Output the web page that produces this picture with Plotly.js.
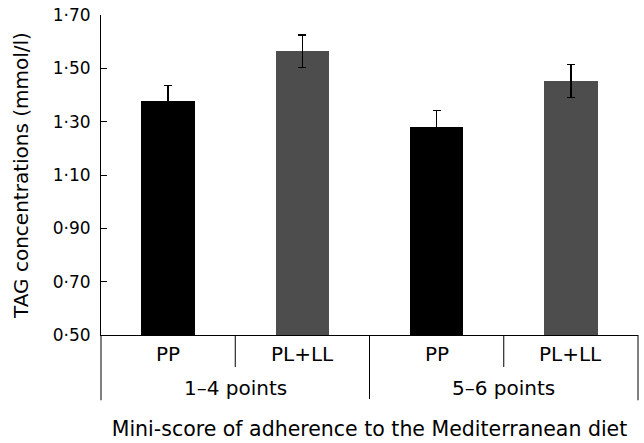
<!DOCTYPE html>
<html>
<head>
<meta charset="utf-8">
<script src="https://cdn.plot.ly/plotly-3.0.1.min.js"></script>
<style>html,body{margin:0;padding:0;background:#fff;}</style>
</head>
<body>
<div id="chart" style="width:644px;height:443px;"></div>
<script>
// Data
var groups = ["1–4 points", "1–4 points", "5–6 points", "5–6 points"];
var subgroups = ["PP", "PL+LL", "PP", "PL+LL"];
var tagValues = [1.378, 1.564, 1.281, 1.452];
var tagErrors = [0.058, 0.061, 0.061, 0.062];
var barColors = ["#000000", "#4d4d4d", "#000000", "#4d4d4d"];
var yTickVals = [0.50, 0.70, 0.90, 1.10, 1.30, 1.50, 1.70];
var yTickText = ["0·50", "0·70", "0·90", "1·10", "1·30", "1·50", "1·70"];
var groupNames = ["1–4 points", "5–6 points"];

var FONT = "DejaVu Sans, Arial, sans-serif";
var xIdx = subgroups.map(function (_, i) { return i; });
var yRange = [0.5, 1.7];

var trace = {
  type: "bar",
  x: xIdx,
  y: tagValues,
  base: 0,
  width: 0.40,
  marker: { color: barColors, line: { width: 0 } },
  error_y: { type: "data", array: tagErrors, visible: true, color: "#000000", thickness: 1.5, width: 4 },
  hoverinfo: "none"
};

var annotations = [];
subgroups.forEach(function (s, i) {
  annotations.push({ xref: "x", yref: "paper", x: i, y: -0.059, text: s, showarrow: false,
    xanchor: "center", yanchor: "middle", font: { family: FONT, size: 20, color: "#000" } });
});
groupNames.forEach(function (g) {
  var idx = [];
  groups.forEach(function (gg, i) { if (gg === g) idx.push(i); });
  var cx = (idx[0] + idx[idx.length - 1]) / 2;
  annotations.push({ xref: "x", yref: "paper", x: cx, y: -0.166, text: g, showarrow: false,
    xanchor: "center", yanchor: "middle", font: { family: FONT, size: 20, color: "#000" } });
});

var shapes = [];
var lineStyle = { color: "#000", width: 1 };
// outer verticals of category box
shapes.push({ type: "line", xref: "x domain", yref: "y domain", x0: 0, x1: 0, y0: 0, y1: -0.204, line: lineStyle });
shapes.push({ type: "line", xref: "x domain", yref: "y domain", x0: 1, x1: 1, y0: 0, y1: -0.204, line: lineStyle });
// dividers
for (var i = 0; i < subgroups.length - 1; i++) {
  var between = groups[i] !== groups[i + 1];
  shapes.push({ type: "line", xref: "x", yref: "y domain", x0: i + 0.5, x1: i + 0.5, y0: 0,
    y1: between ? -0.200 : -0.100, line: lineStyle });
}

var layout = {
  width: 644, height: 443,
  margin: { l: 101, r: 6, t: 15, b: 108, pad: 0 },
  paper_bgcolor: "#fff", plot_bgcolor: "#fff",
  showlegend: false,
  bargap: 0,
  xaxis: {
    range: [-0.5, subgroups.length - 0.5],
    showticklabels: false, ticks: "", showgrid: false, zeroline: false,
    showline: true, linecolor: "#000", linewidth: 1, fixedrange: true,
    title: { text: "Mini-score of adherence to the Mediterranean diet", font: { family: FONT, size: 20.5, color: "#000" }, standoff: 86 }
  },
  yaxis: {
    range: yRange,
    tickvals: yTickVals, ticktext: yTickText,
    ticks: "outside", ticklen: 6, tickwidth: 1, tickcolor: "rgba(0,0,0,0)",
    showline: true, linecolor: "#000", linewidth: 1,
    showgrid: false, zeroline: false, fixedrange: true,
    tickfont: { family: FONT, size: 17, color: "#000" },
    title: { text: "TAG concentrations (mmol/l)", font: { family: FONT, size: 20, color: "#000" }, standoff: 18 }
  },
  yaxis2: {
    overlaying: "y", side: "left", range: yRange,
    tickvals: yTickVals, showticklabels: false,
    ticks: "inside", ticklen: 6, tickwidth: 1, tickcolor: "#000",
    showline: false, showgrid: false, zeroline: false, fixedrange: true
  },
  annotations: annotations,
  shapes: shapes
};

var tickTrace = { type: "scatter", x: [], y: [], yaxis: "y2", hoverinfo: "none", showlegend: false };

Plotly.newPlot("chart", [trace, tickTrace], layout, { staticPlot: true, displayModeBar: false });
</script>
</body>
</html>
